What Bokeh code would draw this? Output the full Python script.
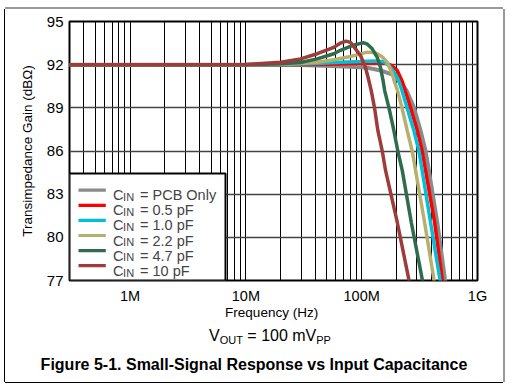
from bokeh.plotting import figure
from bokeh.models import FixedTicker, Label, BoxAnnotation, Range1d, Div
from bokeh.layouts import column
from bokeh.embed import file_html
from bokeh.resources import INLINE

# ---- data (frequency in MHz, gain in dBOhm) ----
series_names = ["PCB Only", "0.5 pF", "1.0 pF", "2.2 pF", "4.7 pF", "10 pF"]
series_colors = ["#8a8a8a", "#ff0000", "#00bfd6", "#b7af6d", "#2e6c4d", "#9e3c3c"]

freq_pcb = [0.3, 1, 10, 30, 53.8, 80, 112, 145.5, 184.7, 216.5, 244, 283, 322, 356, 380, 449, 523, 540]
gain_pcb = [92.0, 92.0, 92.0, 91.97, 91.9, 91.85, 91.78, 91.6, 91.3, 90.8, 90.2, 89.0, 87.43, 86.0, 84.65, 81.05, 77.1, 76.4]

freq_05 = [0.3, 10, 41.3, 65.6, 100, 126.6, 160, 180, 202.8, 225, 236.8, 264.2, 302, 333, 356, 426, 496, 515]
gain_05 = [92.0, 92.0, 92.02, 92.05, 92.1, 92.12, 92.1, 91.95, 91.6, 90.8, 90.2, 89.0, 87.43, 86.0, 84.65, 81.05, 77.1, 76.4]

freq_10 = [0.3, 10, 20, 41.3, 65.6, 100, 126.6, 154.4, 172, 190, 206, 221, 246.4, 282, 312, 333, 393, 473, 490]
gain_10 = [92.0, 92.0, 92.02, 92.08, 92.17, 92.22, 92.25, 92.2, 91.95, 91.5, 91.0, 90.3, 89.0, 87.43, 86.0, 84.65, 81.05, 77.1, 76.4]

freq_22 = [0.3, 10, 20, 29.7, 41.3, 57.5, 80, 97.7, 111.7, 126.6, 136.2, 150, 166.2, 182.8, 192.2, 204, 223, 247, 273, 292, 349, 420, 435]
gain_22 = [92.0, 92.0, 92.03, 92.08, 92.17, 92.34, 92.57, 92.75, 92.87, 92.85, 92.76, 92.55, 92.17, 91.4, 90.8, 90.2, 89.0, 87.43, 86.0, 84.65, 81.05, 77.1, 76.4]

freq_47 = [0.3, 10, 20, 29.7, 41.3, 57.5, 65.6, 82.8, 97.7, 104.4, 112, 123.3, 136.2, 145.5, 152.9, 158, 172, 189.5, 205, 224, 268, 333, 345]
gain_47 = [92.0, 92.0, 92.06, 92.15, 92.4, 92.76, 93.0, 93.33, 93.48, 93.52, 93.42, 93.1, 92.5, 91.8, 90.9, 90.2, 89.0, 87.43, 86.0, 84.65, 81.05, 77.1, 76.4]

freq_100 = [0.3, 10, 20, 29.7, 41.3, 57.5, 65.6, 73, 80, 85.5, 97.7, 107.9, 115.3, 120.9, 129.1, 137.9, 150.5, 160.7, 202.8, 255, 264]
gain_100 = [92.0, 92.02, 92.17, 92.4, 92.76, 93.2, 93.5, 93.64, 93.55, 93.25, 92.64, 91.8, 90.9, 90.2, 89.0, 87.43, 86.0, 84.65, 81.05, 77.1, 76.4]

x_major_ticks = [1e6, 1e7, 1e8, 1e9]
x_tick_labels = ["1M", "10M", "100M", "1G"]
y_ticks = [77, 80, 83, 86, 89, 92, 95]

freqs = [freq_pcb, freq_05, freq_10, freq_22, freq_47, freq_100]
gains = [gain_pcb, gain_05, gain_10, gain_22, gain_47, gain_100]

FONT = "Liberation Sans"

# page origin of the layout (column margin) and frame placement in page coordinates
OX, OY = 5, 9
FRAME_L, FRAME_R, FRAME_T, FRAME_B = 69, 477, 21, 280
W = 498
H1 = 313
H2 = 60

p = figure(width=W, height=H1, x_axis_type="log",
           x_range=Range1d(3e5, 1e9), y_range=Range1d(77, 95),
           output_backend="svg", toolbar_location=None,
           min_border_left=FRAME_L - OX, min_border_right=OX + W - FRAME_R,
           min_border_top=FRAME_T - OY, min_border_bottom=OY + H1 - FRAME_B)

minor = [m * 10 ** e for e in range(5, 9) for m in range(1, 10) if 3e5 <= m * 10 ** e <= 1e9]
p.xaxis.ticker = FixedTicker(ticks=x_major_ticks, minor_ticks=minor)
p.xaxis.major_label_overrides = {int(t): lab for t, lab in zip(x_major_ticks, x_tick_labels)}
p.yaxis.ticker = FixedTicker(ticks=y_ticks)

for ax in (p.xaxis, p.yaxis):
    ax.axis_line_color = None
    ax.major_tick_line_color = None
    ax.minor_tick_line_color = None
    ax.major_tick_out = 0
    ax.major_tick_in = 0
    ax.minor_tick_out = 0
    ax.minor_tick_in = 0
    ax.major_label_text_font = FONT
    ax.major_label_text_color = "black"
    ax.axis_label_text_font = FONT
    ax.axis_label_text_font_style = "normal"
    ax.axis_label_text_color = "black"
    ax.axis_label_text_font_size = "13.5px"

p.xaxis.major_label_text_font_size = "14.5px"
p.yaxis.major_label_text_font_size = "15px"
p.xaxis.major_label_standoff = 7
p.yaxis.major_label_standoff = 6
p.xaxis.axis_label = "Frequency  (Hz)"
p.yaxis.axis_label = "Transimpedance Gain (dBΩ)"
p.xaxis.axis_label_standoff = -2
p.yaxis.axis_label_standoff = 9

p.xgrid.grid_line_color = "black"
p.xgrid.grid_line_width = 1
p.xgrid.minor_grid_line_color = "black"
p.xgrid.minor_grid_line_width = 1
p.ygrid.grid_line_color = "#444444"
p.ygrid.grid_line_width = 1.3

p.outline_line_color = "black"
p.outline_line_width = 2
p.background_fill_color = "white"
p.border_fill_color = "white"

for f, g, c in zip(freqs, gains, series_colors):
    p.line([v * 1e6 for v in f], g, line_color=c, line_width=4 if c == "#8a8a8a" else 3.5)

# page coordinates -> frame screen units (x right, y up from frame bottom)
def sx(px):
    return px - FRAME_L
def sy(py):
    return FRAME_B - py

# legend
p.add_layout(BoxAnnotation(left=sx(69), right=sx(225), bottom=sy(280), top=sy(173),
                           left_units="screen", right_units="screen", top_units="screen", bottom_units="screen",
                           fill_color="white", fill_alpha=1, line_color="black", line_width=2, line_alpha=1))
row0, row_step = 189.7, 15.1
for i, (name, c) in enumerate(zip(series_names, series_colors)):
    yc = row0 + i * row_step
    p.add_layout(BoxAnnotation(left=sx(78), right=sx(105.3), bottom=sy(yc + 1.6), top=sy(yc - 1.6),
                               left_units="screen", right_units="screen", top_units="screen", bottom_units="screen",
                               fill_color=c, fill_alpha=1, line_alpha=0))
    base = yc + 5.0
    p.add_layout(Label(x=sx(112.5), y=sy(base), x_units="screen", y_units="screen", text="C",
                       text_font=FONT, text_font_size="14.5px", text_baseline="alphabetic", text_align="left"))
    p.add_layout(Label(x=sx(122.6), y=sy(base + 1.8), x_units="screen", y_units="screen", text="IN",
                       text_font=FONT, text_font_size="11px", text_baseline="alphabetic", text_align="left"))
    p.add_layout(Label(x=sx(139.5), y=sy(base), x_units="screen", y_units="screen", text="= " + name,
                       text_font=FONT, text_font_size="14.5px", text_baseline="alphabetic", text_align="left"))

# ---- lower text block (HTML so that subscripts are real text) ----
P2_TOP = OY + H1
vout_left = 209 - OX
vout_top = 341.7 - 13.5 - P2_TOP
cap_top = 370.7 - 13.5 - P2_TOP
sub = "font-size:11px;position:relative;top:2.4px;"
html = (
    f'<div style="position:relative;width:{W}px;height:{H2}px;font-family:\'{FONT}\';color:#000;">'
    f'<div style="position:absolute;left:{vout_left}px;top:{vout_top:.1f}px;font-size:16px;line-height:16px;white-space:nowrap;">'
    f'V<span style="{sub}">OUT</span> = 100 mV<span style="{sub}">PP</span></div>'
    f'<div style="position:absolute;left:0;width:{W}px;top:{cap_top:.1f}px;text-align:center;font-size:16px;'
    f'line-height:16px;font-weight:bold;white-space:nowrap;">Figure 5-1. Small-Signal Response vs Input Capacitance</div>'
    '</div>'
)
div = Div(text=html, width=W, height=H2, margin=0)

layout = column(p, div, margin=(OY, 0, 0, OX),
                styles={"box-shadow": "0 -2px 0 0 #9a9a9a, -1px 0 0 0 #000000, 2px 0 0 0 #9a9a9a, 0 1px 0 0 #000000"})

open("out.html", "w").write(file_html(layout, INLINE))
